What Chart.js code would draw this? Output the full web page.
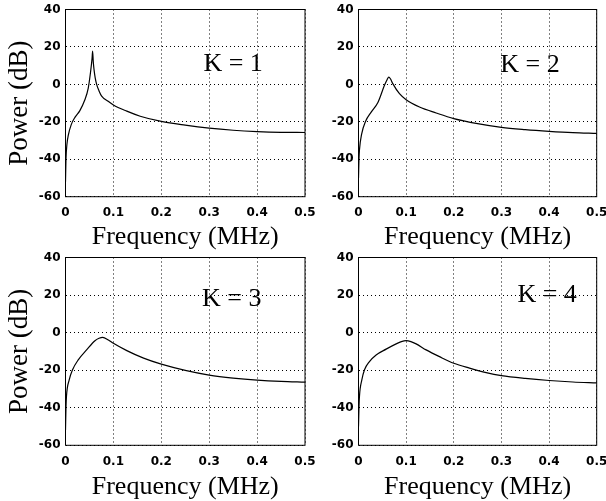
<!DOCTYPE html>
<html>
<head>
<meta charset="utf-8">
<script src="https://cdn.jsdelivr.net/npm/chart.js@4"></script>
<style>
  body { margin: 0; background: #fff; }
  #wrap { position: relative; width: 606px; height: 501px; overflow: hidden; }
  canvas { position: absolute; }
</style>
</head>
<body>
<div id="wrap">
  <canvas id="c1" width="320" height="250" style="left:0;top:0"></canvas>
  <canvas id="c2" width="306" height="250" style="left:300px;top:0"></canvas>
  <canvas id="c3" width="320" height="253" style="left:0;top:248px"></canvas>
  <canvas id="c4" width="306" height="253" style="left:300px;top:248px"></canvas>
</div>
<script>
// frequenze (MHz) e potenza (dB), una serie per ogni K
const k1Freq = [0, 0.001, 0.003, 0.006, 0.012, 0.02, 0.03, 0.04, 0.0475, 0.0525, 0.0555, 0.0566, 0.058, 0.0595, 0.062, 0.065, 0.07, 0.0755, 0.089, 0.1, 0.128, 0.156, 0.2, 0.25, 0.3, 0.35, 0.4, 0.45, 0.5];
const k1Power = [-52, -40, -32, -27, -21.5, -17.5, -14, -8.5, -2, 7, 14, 17.8, 12, 8, 3.5, 0, -3.5, -6.3, -9, -11, -14.3, -17, -19.8, -21.8, -23.4, -24.5, -25.2, -25.6, -25.7];

const k2Freq = [0, 0.001, 0.002, 0.0067, 0.0147, 0.0266, 0.041, 0.0545, 0.06, 0.0636, 0.067, 0.072, 0.086, 0.1, 0.128, 0.163, 0.2, 0.25, 0.3, 0.35, 0.4, 0.45, 0.5];
const k2Power = [-50, -40, -35, -26.4, -19.8, -14.8, -9.5, -0.5, 2.5, 3.9, 3, 0.4, -5, -8.2, -12.1, -15.3, -18.3, -21, -23, -24.2, -25.1, -25.8, -26.2];

const k3Freq = [0, 0.001, 0.002, 0.0077, 0.0147, 0.0266, 0.044, 0.0615, 0.07, 0.0776, 0.0895, 0.1, 0.128, 0.163, 0.2, 0.25, 0.3, 0.35, 0.4, 0.45, 0.5];
const k3Power = [-52, -40, -34, -25.2, -19.8, -14.5, -9.2, -4.3, -3, -2.5, -3.9, -5.7, -9.6, -13.6, -16.8, -20.1, -22.6, -24.2, -25.3, -26, -26.4];

const k4Freq = [0, 0.001, 0.002, 0.007, 0.0126, 0.023, 0.037, 0.058, 0.079, 0.09, 0.1, 0.11, 0.121, 0.142, 0.17, 0.2, 0.233, 0.268, 0.3, 0.35, 0.4, 0.45, 0.5];
const k4Power = [-50, -40, -34, -25.2, -19.8, -15.4, -11.9, -8.8, -6, -4.8, -4.3, -4.8, -6, -9.2, -12.8, -16.3, -18.9, -21.3, -22.9, -24.4, -25.5, -26.3, -26.8];

const kLabels = ['K = 1', 'K = 2', 'K = 3', 'K = 4'];
const xTicks = [0, 0.1, 0.2, 0.3, 0.4, 0.5];
const yTicks = [-60, -40, -20, 0, 20, 40];

const serif = '"Liberation Serif", "Times New Roman", serif';
const tickFont = { family: '"DejaVu Sans", sans-serif', size: 12, weight: 'bold' };

// posizione della scritta K = n, in unità degli assi
const labelPos = [
  { x: 0.35, y: 11 },
  { x: 0.36, y: 10 },
  { x: 0.347, y: 18 },
  { x: 0.396, y: 20 }
];

/* cornice nera attorno all'area del grafico + scritta K */
const framePlugin = {
  id: 'frame',
  afterDraw(chart, args, opts) {
    const { ctx, chartArea: a, scales } = chart;
    ctx.save();
    ctx.setLineDash([]);
    ctx.strokeStyle = '#000';
    ctx.lineWidth = 1;
    ctx.strokeRect(a.left, a.top, a.right - a.left, a.bottom - a.top);
    ctx.fillStyle = '#000';
    ctx.font = '26px ' + serif;
    ctx.textAlign = 'center';
    ctx.textBaseline = 'middle';
    ctx.fillText(opts.text, scales.x.getPixelForValue(opts.x), scales.y.getPixelForValue(opts.y));
    ctx.restore();
  }
};

function makeChart (id, freq, power, i, layout) {
  const points = freq.map((f, j) => ({ x: f, y: power[j] }));
  return new Chart(document.getElementById(id), {
    type: 'line',
    data: {
      datasets: [{
        data: points,
        borderColor: '#000',
        borderWidth: 1.2,
        pointRadius: 0,
        fill: false,
        cubicInterpolationMode: 'monotone'
      }]
    },
    options: {
      responsive: false,
      animation: false,
      devicePixelRatio: 1,
      layout: { padding: { left: 0, top: layout.top, right: layout.right, bottom: 0 } },
      plugins: {
        legend: { display: false },
        tooltip: { enabled: false },
        frame: { text: kLabels[i], x: labelPos[i].x, y: labelPos[i].y }
      },
      scales: {
        x: {
          type: 'linear',
          min: xTicks[0],
          max: xTicks[xTicks.length - 1],
          afterBuildTicks: s => { s.ticks = xTicks.map(v => ({ value: v })) },
          afterFit: s => { s.height = layout.xh; s.paddingLeft = 0; s.paddingRight = 0 },
          ticks: {
            color: '#000',
            font: tickFont,
            padding: 9,
            maxRotation: 0,
            autoSkip: false,
            callback: v => v === 0 ? '0' : v.toFixed(1)
          },
          grid: { color: '#000', lineWidth: 1, drawTicks: false },
          border: { display: false, dash: [1, 3] },
          title: {
            display: true,
            text: 'Frequency (MHz)',
            color: '#000',
            font: { family: serif, size: 26, lineHeight: 1 },
            padding: { top: 0, bottom: layout.tpad }
          }
        },
        y: {
          min: yTicks[0],
          max: yTicks[yTicks.length - 1],
          afterBuildTicks: s => { s.ticks = yTicks.map(v => ({ value: v })) },
          afterFit: s => { s.width = layout.yw; s.paddingTop = 0; s.paddingBottom = 0 },
          ticks: { color: '#000', font: tickFont, padding: 5, autoSkip: false },
          grid: { color: '#000', lineWidth: 1, drawTicks: false },
          border: { display: false, dash: [1, 3] },
          title: {
            display: layout.ytitle,
            text: 'Power (dB)',
            color: '#000',
            font: { family: serif, size: 27, lineHeight: 1 },
            padding: { top: 6.5, bottom: 0 }
          }
        }
      }
    },
    plugins: [framePlugin]
  });
}

makeChart('c1', k1Freq, k1Power, 0, { top: 9.5, right: 15, xh: 53.3, yw: 65.5, tpad: 0, ytitle: true });
makeChart('c2', k2Freq, k2Power, 1, { top: 9.5, right: 9.3, xh: 53.3, yw: 58.5, tpad: 0, ytitle: false });
makeChart('c3', k3Freq, k3Power, 2, { top: 9.5, right: 15, xh: 55.7, yw: 65.5, tpad: 1, ytitle: true });
makeChart('c4', k4Freq, k4Power, 3, { top: 9.5, right: 9.3, xh: 55.7, yw: 58.5, tpad: 1, ytitle: false });
</script>
</body>
</html>
